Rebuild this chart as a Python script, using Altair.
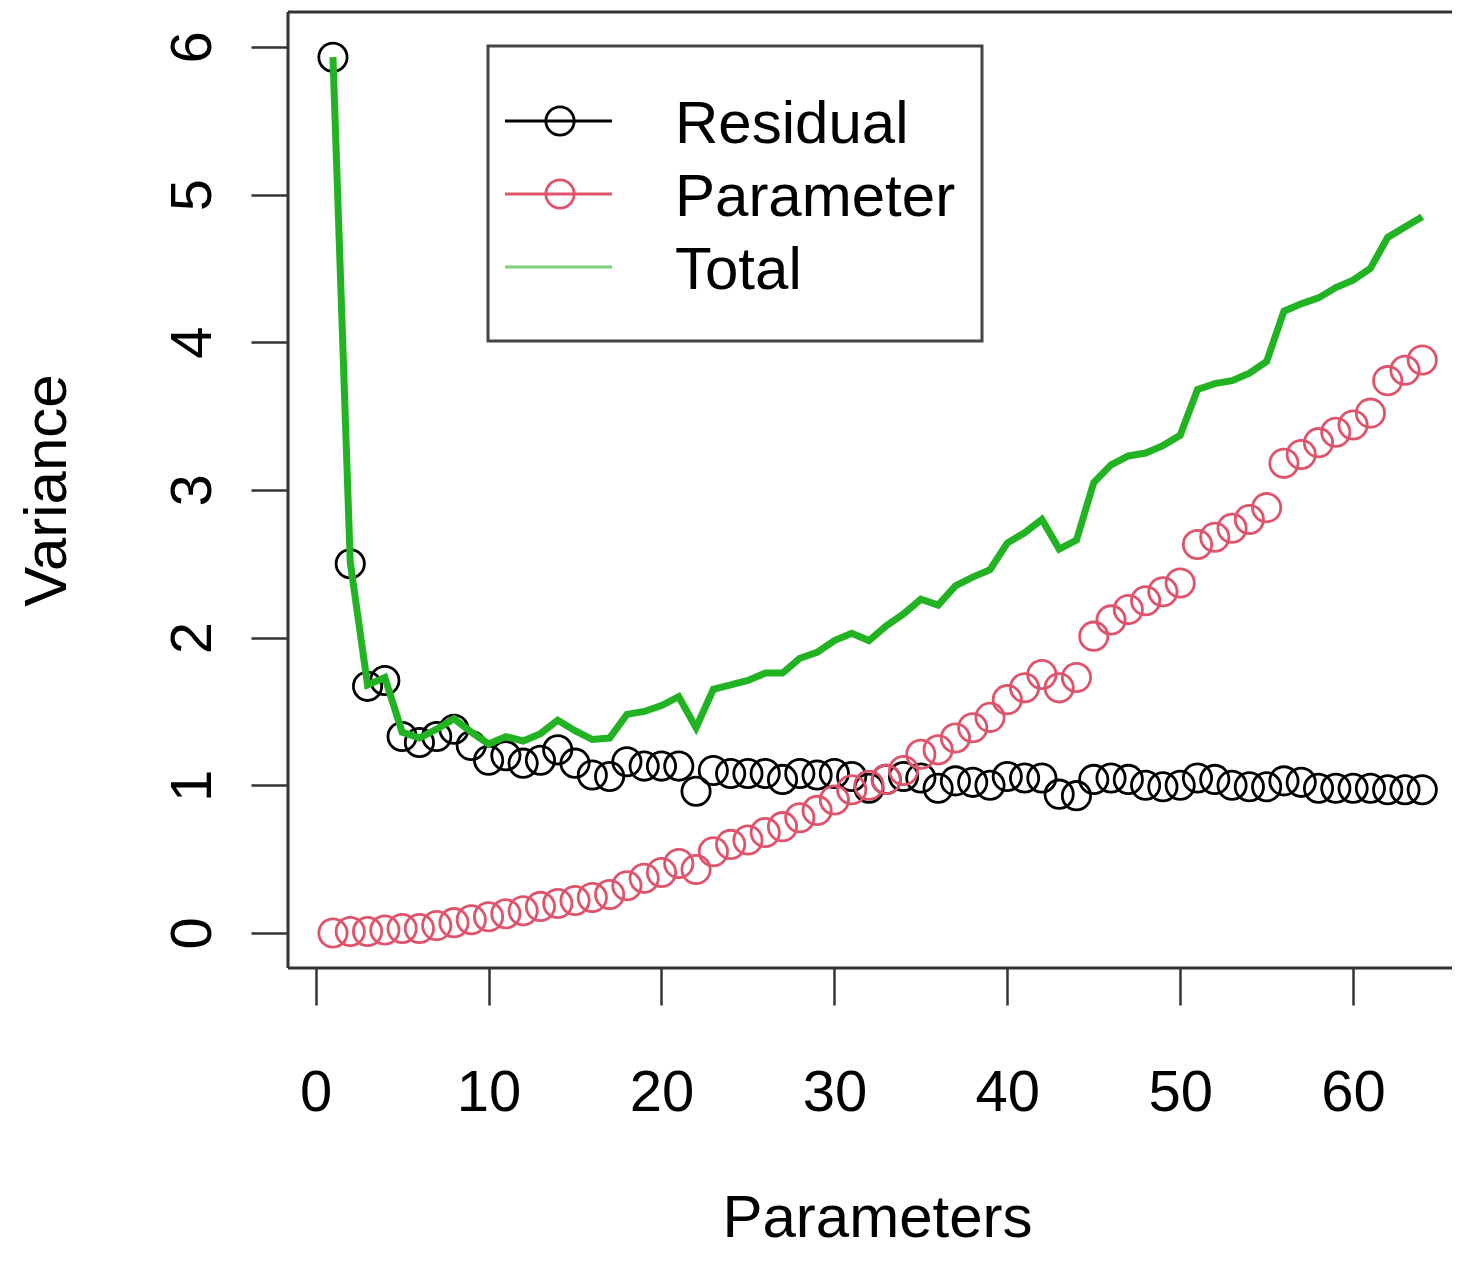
import altair as alt
import pandas as pd

# ---- data ----
params = list(range(1, 65))

residual = [5.93, 2.50, 1.67, 1.71, 1.33, 1.29, 1.33, 1.38, 1.27, 1.17,
            1.20, 1.15, 1.17, 1.24, 1.15, 1.07, 1.06, 1.16, 1.13, 1.13,
            1.13, 0.96, 1.10, 1.08, 1.08, 1.08, 1.04, 1.08, 1.07, 1.08,
            1.06, 0.98, 1.04, 1.06, 1.05, 0.98, 1.03, 1.02, 1.00, 1.06,
            1.05, 1.05, 0.94, 0.93, 1.04, 1.05, 1.04, 1.00, 0.99, 1.00,
            1.05, 1.04, 1.00, 0.99, 0.99, 1.03, 1.02, 0.98, 0.98, 0.98,
            0.98, 0.97, 0.97, 0.97]

parameter = [0.00, 0.01, 0.01, 0.02, 0.03, 0.03, 0.05, 0.07, 0.09, 0.11,
             0.13, 0.15, 0.18, 0.20, 0.22, 0.24, 0.26, 0.32, 0.37, 0.41,
             0.47, 0.43, 0.55, 0.60, 0.63, 0.68, 0.72, 0.78, 0.83, 0.90,
             0.97, 1.00, 1.04, 1.10, 1.21, 1.24, 1.32, 1.39, 1.46, 1.58,
             1.66, 1.75, 1.66, 1.73, 2.01, 2.12, 2.19, 2.25, 2.31, 2.37,
             2.63, 2.68, 2.74, 2.80, 2.88, 3.18, 3.24, 3.32, 3.39, 3.44,
             3.52, 3.74, 3.81, 3.88]

total = [5.93, 2.51, 1.68, 1.73, 1.36, 1.32, 1.38, 1.45, 1.36, 1.28,
         1.33, 1.30, 1.35, 1.44, 1.37, 1.31, 1.32, 1.48, 1.50, 1.54,
         1.60, 1.39, 1.65, 1.68, 1.71, 1.76, 1.76, 1.86, 1.90, 1.98,
         2.03, 1.98, 2.08, 2.16, 2.26, 2.22, 2.35, 2.41, 2.46, 2.64,
         2.71, 2.80, 2.60, 2.66, 3.05, 3.17, 3.23, 3.25, 3.30, 3.37,
         3.68, 3.72, 3.74, 3.79, 3.87, 4.21, 4.26, 4.30, 4.37, 4.42,
         4.50, 4.71, 4.78, 4.85]

x_ticks = [0, 10, 20, 30, 40, 50, 60]
y_ticks = [0, 1, 2, 3, 4, 5, 6]

legend_labels = ["Residual", "Parameter", "Total"]

df = pd.DataFrame({"Parameters": params, "Residual": residual,
                   "Parameter": parameter, "Total": total})

FONT = "Liberation Sans"
BLACK = "#000000"
RED = "#DF536B"
GREEN = "#22B322"
FRAME = "#333333"

W, H = 1164, 956

xscale = alt.Scale(domain=[-1.6, 65.72], nice=False, zero=False)
yscale = alt.Scale(domain=[-0.237, 6.236], nice=False, zero=False)

xaxis = alt.Axis(values=x_ticks, title="Parameters", domain=False, grid=False,
                 tickSize=37, tickWidth=2.5, tickColor=FRAME,
                 labelFont=FONT, labelFontSize=58, labelColor=BLACK,
                 labelPadding=105, labelBaseline="alphabetic",
                 labelFlush=False, labelOverlap=False,
                 titleFont=FONT, titleFontSize=60, titleFontWeight="normal",
                 titleColor=BLACK, titleX=589, titleY=268,
                 titleAlign="center", titleBaseline="alphabetic")

yaxis = alt.Axis(values=y_ticks, title="Variance", domain=False, grid=False,
                 tickSize=37, tickWidth=2.5, tickColor=FRAME,
                 labelFont=FONT, labelFontSize=58, labelColor=BLACK,
                 labelAngle=270, labelAlign="center", labelBaseline="alphabetic",
                 labelPadding=41, labelFlush=False, labelOverlap=False,
                 titleFont=FONT, titleFontSize=60, titleFontWeight="normal",
                 titleColor=BLACK, titleAngle=270, titleX=-223, titleY=478,
                 titleAlign="center", titleBaseline="alphabetic")

X = alt.X("Parameters:Q", scale=xscale, axis=xaxis, title="Parameters")

base = alt.Chart(df)

res_pts = base.mark_point(shape="circle", filled=False, size=800,
                          strokeWidth=2.8, color=BLACK, opacity=1).encode(
    x=X,
    y=alt.Y("Residual:Q", scale=yscale, axis=yaxis, title="Variance"),
)

par_pts = base.mark_point(shape="circle", filled=False, size=800,
                          strokeWidth=2.8, color=RED, opacity=1).encode(
    x=X,
    y=alt.Y("Parameter:Q", scale=yscale, axis=yaxis, title="Variance"),
)

tot_line = base.mark_line(color=GREEN, strokeWidth=7).encode(
    x=X,
    y=alt.Y("Total:Q", scale=yscale, axis=yaxis, title="Variance"),
)

one = alt.Data(values=[{}])

frame_left = alt.Chart(one).mark_rule(color=FRAME, strokeWidth=3).encode(
    x=alt.value(0), y=alt.value(0), y2=alt.value(H))
frame_top = alt.Chart(one).mark_rule(color=FRAME, strokeWidth=3).encode(
    y=alt.value(0), x=alt.value(0), x2=alt.value(W))
frame_bottom = alt.Chart(one).mark_rule(color=FRAME, strokeWidth=3).encode(
    y=alt.value(H), x=alt.value(0), x2=alt.value(W))

legend_box = alt.Chart(one).mark_rect(fill="white", stroke="#444444",
                                      strokeWidth=3).encode(
    x=alt.value(200), x2=alt.value(694), y=alt.value(34), y2=alt.value(329))

legend_layers = [legend_box]
rows = [109, 182, 255]
colors = [BLACK, RED, "#7FCF7F"]
for i, (lab, col, ry) in enumerate(zip(legend_labels, colors, rows)):
    legend_layers.append(
        alt.Chart(one).mark_rule(color=col, strokeWidth=3).encode(
            x=alt.value(217), x2=alt.value(324), y=alt.value(ry)))
    if i < 2:
        legend_layers.append(
            alt.Chart(one).mark_point(shape="circle", filled=False, size=800,
                                      strokeWidth=2.8, color=col, opacity=1).encode(
                x=alt.value(272), y=alt.value(ry)))
    legend_layers.append(
        alt.Chart(one).mark_text(text=lab, font=FONT, fontSize=60, color=BLACK,
                                 align="left", baseline="alphabetic").encode(
            x=alt.value(387), y=alt.value(ry + 22)))

chart = alt.layer(
    res_pts, par_pts, tot_line, frame_left, frame_top, frame_bottom,
    *legend_layers
).properties(
    width=W, height=H,
    padding={"left": 280, "top": 4, "right": 0, "bottom": 282},
    autosize=alt.AutoSizeParams(type="none"),
    background="white",
).configure_view(stroke=None)

chart.save("out.html", embed_options={"renderer": "svg", "actions": False})
